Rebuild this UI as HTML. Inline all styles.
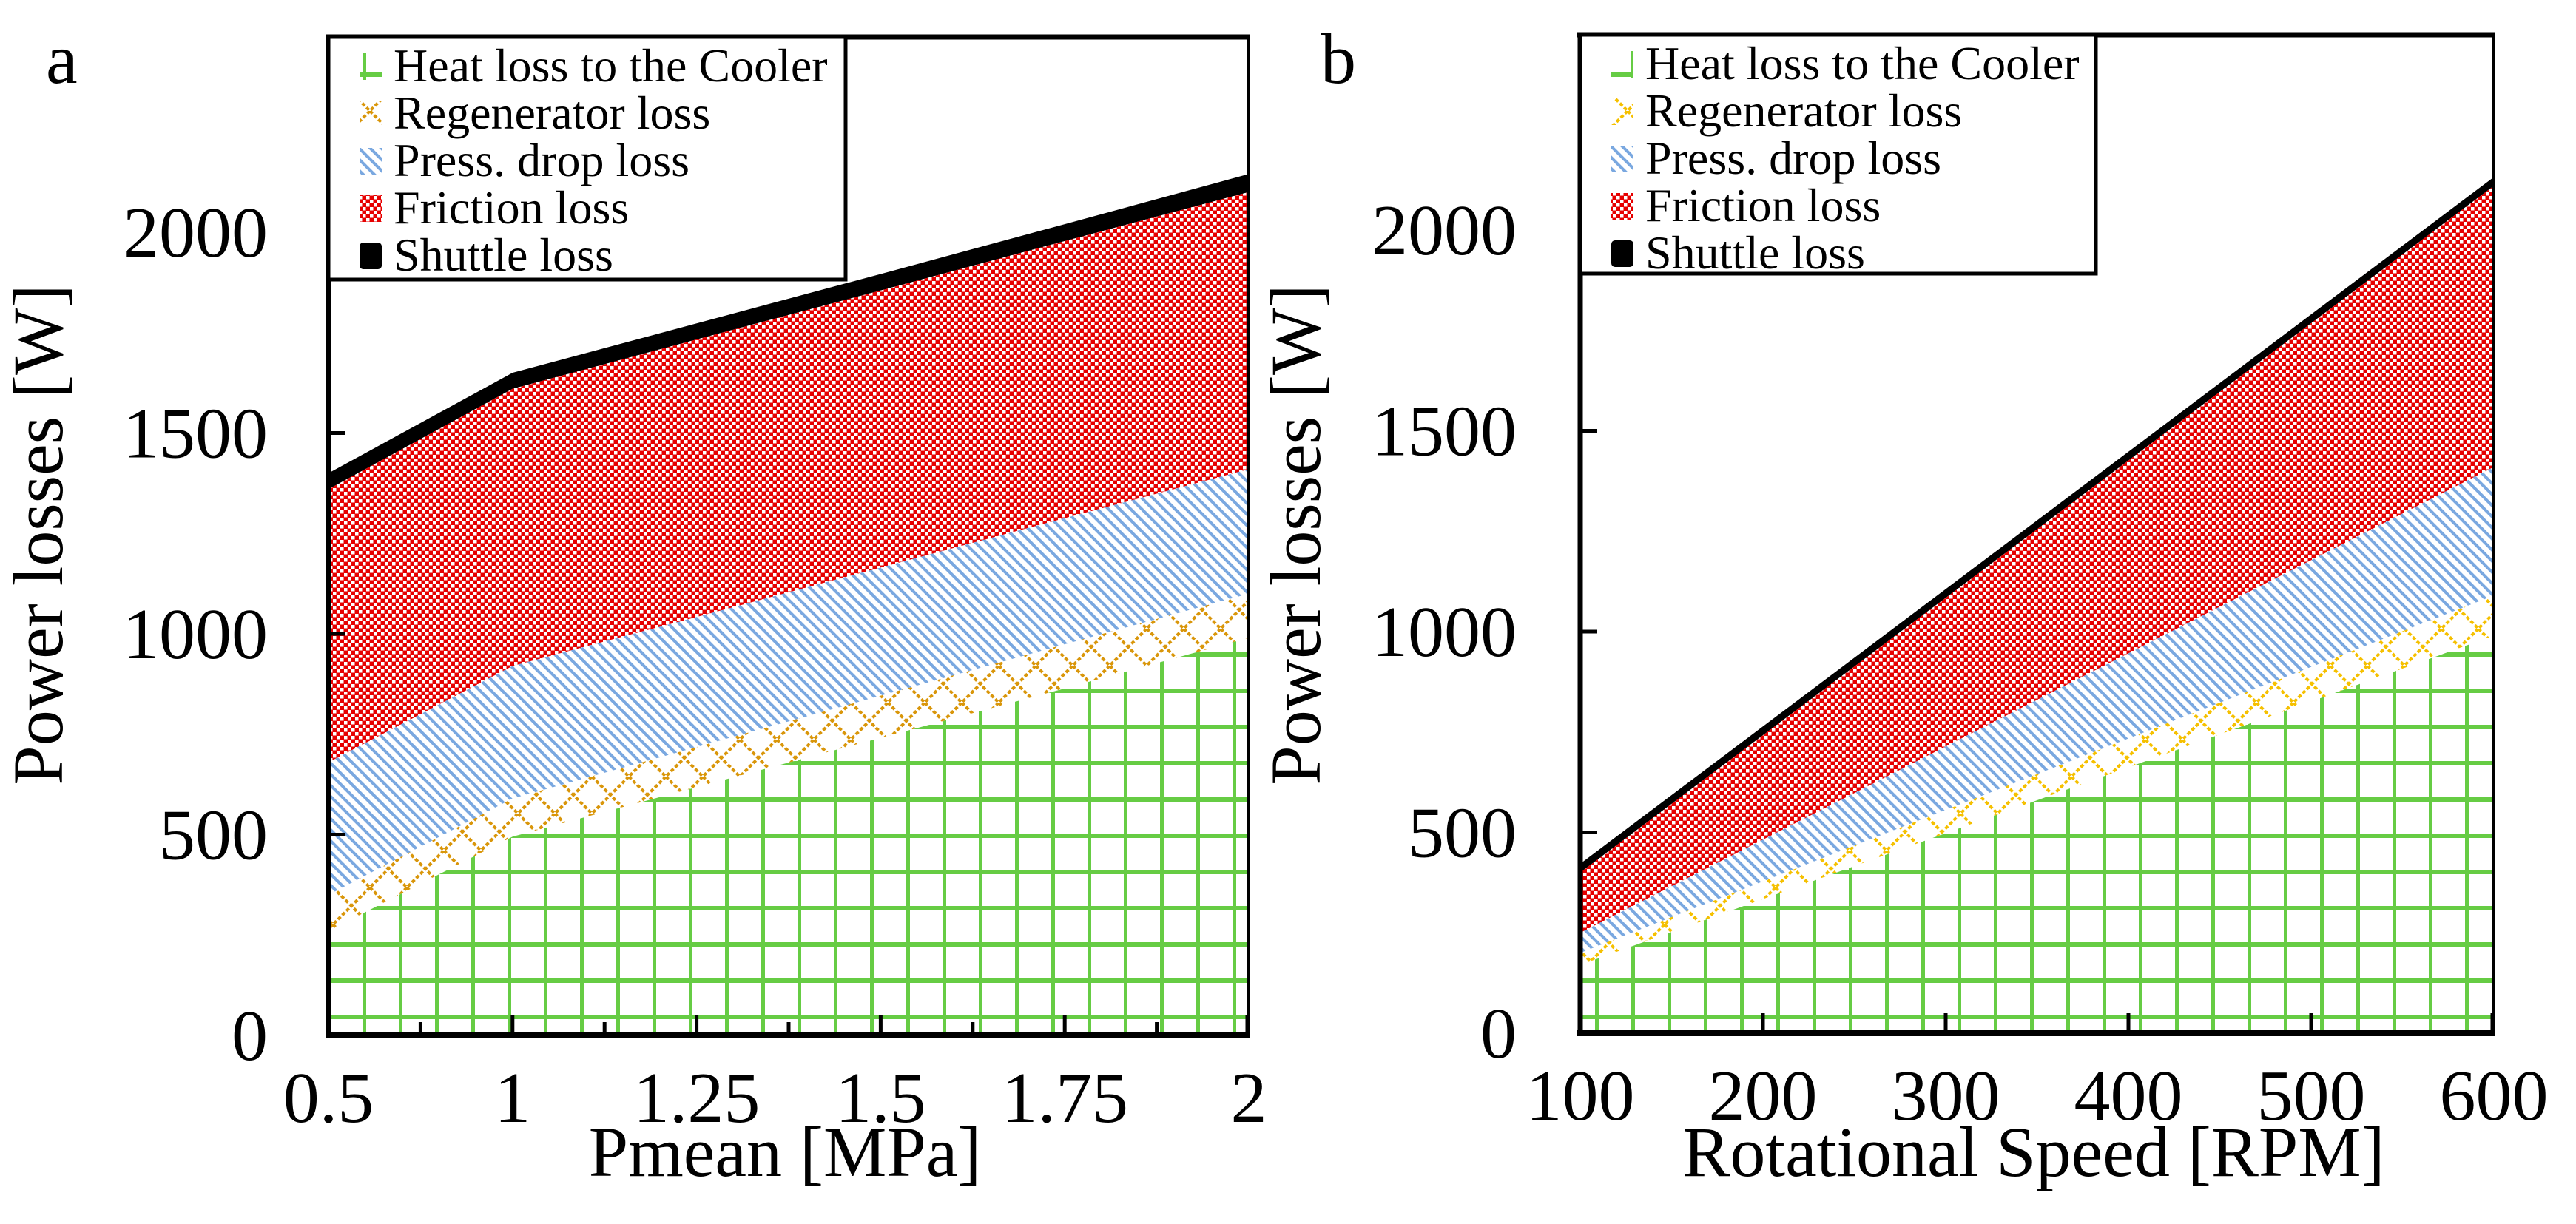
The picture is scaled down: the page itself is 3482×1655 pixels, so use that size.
<!DOCTYPE html>
<html><head><meta charset="utf-8"><style>
html,body{margin:0;padding:0;background:#fff;}
svg{display:block;font-family:"Liberation Serif",serif;}
</style></head><body>
<svg id="chart" width="3482" height="1655" viewBox="0 0 3482 1655" xmlns="http://www.w3.org/2000/svg" font-family="Liberation Serif, serif">
<defs>
<pattern id="pGreen" patternUnits="userSpaceOnUse" width="49" height="49"><rect x="0" y="0" width="5" height="49" fill="#66cc44"/><rect x="0" y="0" width="49" height="6" fill="#66cc44"/></pattern>
<pattern id="pOrangeA" patternUnits="userSpaceOnUse" width="50" height="50"><path d="M0,0L50,50M50,0L0,50" stroke="#d9960a" stroke-width="4" stroke-dasharray="5,3"/></pattern>
<pattern id="pOrangeB" patternUnits="userSpaceOnUse" width="50" height="50"><path d="M0,0L50,50M50,0L0,50" stroke="#f5c000" stroke-width="4" stroke-dasharray="5,3"/></pattern>
<pattern id="pBlue" patternUnits="userSpaceOnUse" width="15" height="15"><path d="M-2,-2L17,17M-2,13L2,17M13,-2L17,2" stroke="#7aa8e0" stroke-width="4"/></pattern>
<pattern id="pRed" patternUnits="userSpaceOnUse" width="10" height="10"><rect width="10" height="10" fill="#e60000"/><rect x="0" y="0" width="4.5" height="4.5" fill="#fff"/><rect x="5" y="5" width="4.5" height="4.5" fill="#fff"/></pattern>
</defs>
<g id="panelA"></g>
<g id="panelB"></g>
</svg>
<script>
const NS="http://www.w3.org/2000/svg";
// Panel a data
const catsA=["0.5","1","1.25","1.5","1.75","2"];
const coolerA=[260,495,618,741,864,990];
const regenA=[350,590,718,846,974,1100];
const pressA=[680,920,1042,1165,1288,1410];
const frictionA=[1360,1610,1733,1855,1978,2100];
const shuttleA=[1400,1650,1773,1896,2020,2145];
// Panel b data
const catsB=[100,200,300,400,500,600];
const coolerB=[170,334,498,662,826,990];
const regenB=[200,378,556,734,912,1090];
const pressB=[250,482,714,946,1178,1410];
const frictionB=[400,742,1084,1426,1768,2110];
const shuttleB=[415,757,1099,1441,1783,2125];
const yTicks=[0,500,1000,1500,2000];
const legendLabels=["Heat loss to the Cooler","Regenerator loss","Press. drop loss","Friction loss","Shuttle loss"];

function mk(tag,attrs,parent,text){const e=document.createElementNS(NS,tag);for(const k in attrs)e.setAttribute(k,attrs[k]);if(text!==undefined)e.textContent=text;parent.appendChild(e);return e;}

function panel(g,o){
  const L=o.L,R=o.R,T=o.T,B=o.B;
  const n=o.cats.length;
  const xs=i=>L+(R-L)*i/(n-1);
  const ys=v=>B-v*0.543;
  const areas=[[o.shut,o.fric,"#000","shuttle-area"],[o.fric,o.press,"url(#pRed)","friction-area"],[o.press,o.regen,"url(#pBlue)","press-drop-area"],[o.regen,o.cool,o.orange,"regenerator-area"],[o.cool,null,"url(#pGreen)","cooler-area"]];
  areas.forEach(a=>{
    let d="M"+xs(0)+","+ys(a[0][0]);
    for(let i=1;i<n;i++)d+="L"+xs(i)+","+ys(a[0][i]);
    if(a[1]){for(let i=n-1;i>=0;i--)d+="L"+xs(i)+","+ys(a[1][i]);}
    else{d+="L"+xs(n-1)+","+B+"L"+xs(0)+","+B;}
    d+="Z";
    const p=mk("path",{d:d,fill:a[2]},g);
    
    
  });
  if(o.shutLine){
    let d="M"+xs(0)+","+ys(o.shut[0]);for(let i=1;i<n;i++)d+="L"+xs(i)+","+ys(o.shut[i]);
    const p=mk("path",{d:d,fill:"none",stroke:"#000","stroke-width":6},g);
    
    
  }
  const fr=mk("g",{},g);
  
  
  mk("line",{x1:L-4,y1:B,x2:R+2,y2:B,stroke:"#000","stroke-width":8},fr);
  mk("line",{x1:L,y1:T,x2:L,y2:B+4,stroke:"#000","stroke-width":7},fr);
  mk("line",{x1:L-4,y1:T,x2:R+2,y2:T,stroke:"#000","stroke-width":7},fr);
  mk("line",{x1:R,y1:T,x2:R,y2:B,stroke:"#000","stroke-width":4},fr);
  for(let i=0;i<n;i++){
    const x=xs(i);
    if(i>0&&i<n-1)mk("line",{x1:x,y1:B,x2:x,y2:B-27,stroke:"#000","stroke-width":5},fr);
    if(i===n-1)mk("line",{x1:x-2,y1:B,x2:x-2,y2:B-27,stroke:"#000","stroke-width":5},fr);
    if(o.minor&&i<n-1){const xm=(x+xs(i+1))/2;mk("line",{x1:xm,y1:B,x2:xm,y2:B-18,stroke:"#000","stroke-width":5},fr);}
    const t=mk("text",{x:x,y:B+117,"font-size":98,"text-anchor":"middle"},g,String(o.cats[i]));
    
    
  }
  yTicks.forEach(v=>{
    const y=ys(v);
    if(v>0)mk("line",{x1:L,y1:y,x2:L+23,y2:y,stroke:"#000","stroke-width":5},fr);
    const t=mk("text",{x:o.yLabR,y:y+33,"font-size":98,"text-anchor":"end"},g,String(v));
    
    
  });
  const xt=mk("text",{x:o.xtX,y:1590,"font-size":96,"text-anchor":"middle"},g,o.xTitle);
  
  
  const yt=mk("text",{x:0,y:0,"font-size":96,"text-anchor":"middle",transform:"translate("+(o.ytX+32)+",723) rotate(-90)"},g,"Power losses [W]");
  
  
  const pl=mk("text",{x:o.lblX,y:o.lblY,"font-size":96},g,o.lbl);
  
  
  const lg=mk("g",{},g);
  
  
  mk("rect",{x:L,y:T,width:o.legR-L,height:o.legB-T,fill:"#fff",stroke:"#000","stroke-width":5},lg);
  const fills=["url(#pGreen)",o.orange,"url(#pBlue)","url(#pRed)","#000"];
  legendLabels.forEach((s,i)=>{
    const by=T+60+i*64;
    const e=mk("g",{},lg);
    
    
    mk("rect",{x:L+42,y:by-38,width:30,height:36,fill:fills[i],rx:i===4?5:0},e);
    mk("text",{x:L+88,y:by,"font-size":64},e,s);
  });
}
panel(document.getElementById("panelA"),{L:444,R:1688,T:50,B:1400,cats:catsA,cool:coolerA,regen:regenA,press:pressA,fric:frictionA,shut:shuttleA,orange:"url(#pOrangeA)",minor:true,shutLine:false,yLabR:362,xTitle:"Pmean [MPa]",xtX:1061,ytX:52,lbl:"a",lblX:62,lblY:112,legR:1143,legB:378});
panel(document.getElementById("panelB"),{L:2136,R:3371,T:47,B:1397,cats:catsB,cool:coolerB,regen:regenB,press:pressB,fric:frictionB,shut:shuttleB,orange:"url(#pOrangeB)",minor:false,shutLine:true,yLabR:2050,xTitle:"Rotational Speed [RPM]",xtX:2749,ytX:1752,lbl:"b",lblX:1785,lblY:112,legR:2833,legB:370});
</script>
</body></html>
